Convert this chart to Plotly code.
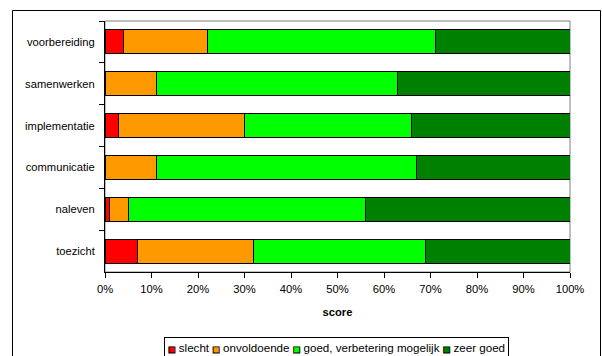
import plotly.graph_objects as go

categories = ["voorbereiding", "samenwerken", "implementatie", "communicatie", "naleven", "toezicht"]
series_names = ["slecht", "onvoldoende", "goed, verbetering mogelijk", "zeer goed"]
slecht = [4, 0, 3, 0, 1, 7]
onvoldoende = [18, 11, 27, 11, 4, 25]
goed = [49, 52, 36, 56, 51, 37]
zeer_goed = [29, 37, 34, 33, 44, 31]
colors = ["#FF0000", "#FF9900", "#00FF00", "#008000"]
x_ticks = [0, 10, 20, 30, 40, 50, 60, 70, 80, 90, 100]
x_tick_labels = [f"{v}%" for v in x_ticks]
x_title = "score"

W, H = 602, 356
L, R, T, B = 105, 32, 21, 84
pw, ph = W - L - R, H - T - B

def px_x(p):
    return (p - L) / pw

def px_y(p):
    return (H - B - p) / ph

FONT = "Liberation Sans, Arial, sans-serif"
FS = 11.2
LEG_FS = 11.6

fig = go.Figure()
for name, vals, col in zip(series_names, [slecht, onvoldoende, goed, zeer_goed], colors):
    fig.add_trace(go.Bar(
        y=categories, x=vals, name=name, orientation="h",
        marker=dict(color=col, line=dict(color="#000000", width=1)),
        showlegend=False,
    ))

# legend drawn as a bordered text box (Excel-style compact legend)
legend_parts = []
for name, col in zip(series_names, colors):
    legend_parts.append(
        f"<span style='font-family:DejaVu Sans;font-size:8px;color:{col};stroke:#000000;stroke-width:0.9px'>\u25A0</span> {name}"
    )
legend_text = " ".join(legend_parts)

fig.update_layout(
    width=W, height=H,
    margin=dict(l=L, r=R, t=T, b=B, pad=0),
    paper_bgcolor="white", plot_bgcolor="white",
    barmode="stack", bargap=0.43,
    font=dict(family=FONT, size=FS, color="#000000"),
    showlegend=False,
    xaxis=dict(
        range=[0, 100], tickvals=x_ticks, ticktext=x_tick_labels,
        showgrid=False, zeroline=False, showline=True, linecolor="#000000", linewidth=1,
        ticks="outside", ticklen=5, tickcolor="#000000", ticklabelstandoff=2,
        title=dict(text=f"<b>{x_title}</b>", font=dict(family=FONT, size=FS), standoff=13),
        fixedrange=True,
    ),
    yaxis=dict(
        categoryorder="array", categoryarray=categories, autorange="reversed",
        showgrid=False, zeroline=False, showline=True, linecolor="#000000", linewidth=1,
        ticks="outside", ticklen=5, tickcolor="#000000", tickson="boundaries",
        ticklabelstandoff=7,
        fixedrange=True,
    ),
    annotations=[
        dict(text=legend_text, xref="paper", yref="paper", x=px_x(336), xanchor="center",
             y=px_y(336.5), yanchor="top", showarrow=False,
             font=dict(family=FONT, size=LEG_FS, color="#000000"),
             bordercolor="#000000", borderwidth=1, borderpad=3, bgcolor="white"),
    ],
    shapes=[
        dict(type="rect", xref="paper", yref="paper", x0=0, x1=1, y0=0, y1=1,
             line=dict(color="#808080", width=1), fillcolor="rgba(0,0,0,0)", layer="below"),
        dict(type="rect", xref="paper", yref="paper", x0=px_x(12.5), x1=px_x(600.5),
             y0=px_y(380), y1=px_y(10.5),
             line=dict(color="#000000", width=1), fillcolor="rgba(0,0,0,0)", layer="below"),
    ],
)

fig.write_html("out.html")
